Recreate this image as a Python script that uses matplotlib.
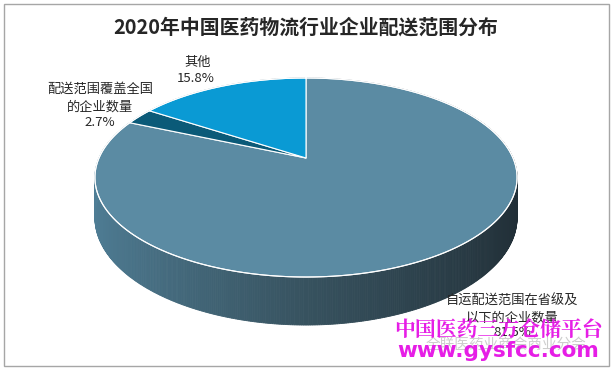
import numpy as np
import matplotlib
matplotlib.use("Agg")
import matplotlib.pyplot as plt
from matplotlib.patches import Polygon, Rectangle
from matplotlib.colors import to_rgb

plt.rcParams['font.family'] = ['Noto Sans CJK SC', 'DejaVu Sans']

title = "2020年中国医药物流行业企业配送范围分布"
categories = ["自运配送范围在省级及\n以下的企业数量", "配送范围覆盖全国\n的企业数量", "其他"]
values = [81.5, 2.7, 15.8]
top_colors = ["#5b8ba3", "#0b5a78", "#0a9ad4"]

W, H_px = 612, 370
fig = plt.figure(figsize=(W / 100, H_px / 100), dpi=100)
ax = fig.add_axes([0, 0, 1, 1])
ax.set_xlim(0, W)
ax.set_ylim(H_px, 0)
ax.axis("off")

# frame
ax.add_patch(Rectangle((4, 3.5), 605, 362.5, fill=False, ec="#a6a6a6", lw=1.0))

# perspective pie geometry
cx, cy = 306.0, 158.0
B, A, k, D = 207.0, 95.7, 0.196, 38.6


def proj(a_deg, z=0.0, r=1.0):
    a = np.radians(a_deg)
    u = r * np.sin(a)
    v = r * np.cos(a)
    s = 1.0 + k * v
    return cx + B * u / s, cy - A * v / s + z * D / s


# side wall (drawn as strips, shaded by horizontal position)
c_left = np.array(to_rgb("#4f7e96"))
c_mid = np.array(to_rgb("#37525f"))
c_right = np.array(to_rgb("#202d35"))
angles = np.linspace(0, 360, 721)
for a0, a1 in zip(angles[:-1], angles[1:]):
    am = 0.5 * (a0 + a1)
    u = np.sin(np.radians(am))
    if u < 0:
        t = u + 1
        col = c_left * (1 - t) + c_mid * t
    else:
        t = u
        col = c_mid * (1 - t) + c_right * t
    pts = [proj(a0), proj(a1), proj(a1, 1), proj(a0, 1)]
    ax.add_patch(Polygon(pts, closed=True, fc=col, ec=col, lw=0.6))

# top face slices (clockwise from 12 o'clock)
bounds = np.concatenate([[0], np.cumsum(values)]) / np.sum(values) * 360
for i, val in enumerate(values):
    a_arc = np.linspace(bounds[i], bounds[i + 1], 200)
    pts = [(cx, cy)] + [proj(a) for a in a_arc]
    ax.add_patch(Polygon(pts, closed=True, fc=top_colors[i], ec="white", lw=0.8, joinstyle="round"))

# rim highlight
rim = np.array([proj(a) for a in np.linspace(0, 360, 721)])
ax.plot(rim[:, 0], rim[:, 1], color="white", lw=0.8)

# title
ax.text(306, 27, title, ha="center", va="center", fontsize=14.3, fontweight="bold", color="#262626")

# labels
lab_fs = 9.5
tc = "#262626"
ax.text(198, 62, categories[2], ha="center", va="center", fontsize=lab_fs, color=tc)
ax.text(196, 79, f"{values[2]:.1f}%", ha="center", va="center", fontsize=lab_fs, color=tc)
ax.text(100, 98, categories[1], ha="center", va="center", fontsize=lab_fs, color=tc, linespacing=1.45)
ax.text(100, 123, f"{values[1]:.1f}%", ha="center", va="center", fontsize=lab_fs, color=tc)
ax.text(512, 309.5, categories[0], ha="center", va="center", fontsize=lab_fs, color=tc, linespacing=1.45)
ax.text(512, 332, f"{values[0]:.1f}%", ha="center", va="center", fontsize=lab_fs, color=tc)

# watermark
ax.text(506, 345, "全联医药业商会商业分会", ha="center", va="center", fontsize=10.5, color="#c8c8c8", alpha=0.9)
ax.text(498, 330, "中国医药三方仓储平台", ha="center", va="center", fontsize=15, fontweight="bold",
        color="#e61ee6", family=["Noto Serif CJK SC", "Noto Sans CJK SC"])
ax.text(498, 351, "www.gysfcc.com", ha="center", va="center", fontsize=15.5, fontweight="bold",
        color="#e61ee6", family=["DejaVu Sans"])

fig.savefig("out.png", dpi=100)
